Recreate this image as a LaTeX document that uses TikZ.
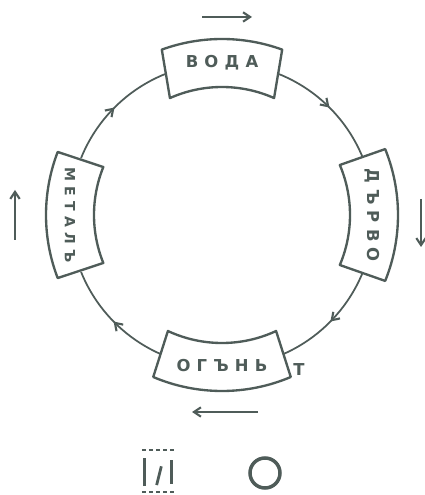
\documentclass[tikz,border=0pt]{standalone}
\usepackage{fontspec}
\setmainfont{DejaVu Sans}
\usepackage{tikz}
\usetikzlibrary{arrows.meta, calc, decorations.markings}
\definecolor{ink}{HTML}{4F5C59}
\newfontfamily\lettering[LetterSpace=38]{DejaVu Sans}
\begin{document}
\begin{tikzpicture}[
      x=0.03cm, y=0.03cm,
      every node/.style={text=ink, font=\lettering\fontsize{14}{16}\selectfont\bfseries},
      band/.style={draw=ink, line width=2pt, fill=white, line join=round},
      ring/.style={draw=ink, line width=1.5pt},
      flow/.style={ring, postaction={decorate},
                   decoration={markings, mark=at position 0.5 with {\arrow{Straight Barb[length=6pt, width=8pt, line width=1.8pt]}}}},
      turn/.style={draw=ink, line width=2pt, -{Straight Barb[length=6pt, width=8pt, line width=1.8pt]}},
    ]
    \useasboundingbox (0,0) rectangle (425,495);
    \coordinate (O) at (222,280);

    % #1 middle angle, #2 half angle outside, #3 half angle inside
    \newcommand\band[3]{\draw[band] ($(O)+(#1-#3:128)$) arc[start angle=#1-#3, end angle=#1+#3, radius=128]
      -- ($(O)+(#1+#2:176)$) arc[start angle=#1+#2, end angle=#1-#2, radius=176] -- cycle;}

    \coordinate (voda-w)  at ($(O)+(112:152)$);
    \coordinate (voda-e)  at ($(O)+(68:152)$);
    \coordinate (darvo-n) at ($(O)+(22:152)$);
    \coordinate (darvo-s) at ($(O)+(-22:152)$);
    \coordinate (ogan-e)  at ($(O)+(-67:152)$);
    \coordinate (ogan-w)  at ($(O)+(-113:152)$);
    \coordinate (metal-s) at ($(O)+(-158:152)$);
    \coordinate (metal-n) at ($(O)+(158:152)$);

    \draw[flow] (voda-e)  arc[start angle=68,   end angle=22,   radius=152];
    \draw[flow] (darvo-s) arc[start angle=-22,  end angle=-67,  radius=152];
    \draw[flow] (ogan-w)  arc[start angle=-113, end angle=-158, radius=152];
    \draw[flow] (metal-n) arc[start angle=158,  end angle=112,  radius=152];

    \band{90}{20}{24}
    \band{0}{22}{23}
    \band{270}{23}{25}
    \band{180}{21}{22}

    \node (voda)  at ($(O)+(90:152)$)  {ВОДА};
    \node[rotate=-90] (darvo) at ($(O)+(0:150)$)   {ДЪРВО};
    \node (ogan)  at ($(O)+(270:151)$) {ОГЪНЬ};
    \node[rotate=-90, font=\lettering\fontsize{12}{14}\selectfont\bfseries] (metal) at ($(O)+(180:152)$) {МЕТАЛЪ};
    \node (t) at (299,125) {Т};

    \coordinate (top-a) at (202,478);  \coordinate (top-b) at (252,478);
    \coordinate (rgt-a) at (421,296);  \coordinate (rgt-b) at (421,248);
    \coordinate (bot-a) at (258,83);   \coordinate (bot-b) at (192,83);
    \coordinate (lft-a) at (15,255);   \coordinate (lft-b) at (15,305);
    \draw[turn] (top-a) -- (top-b);
    \draw[turn] (rgt-a) -- (rgt-b);
    \draw[turn] (bot-a) -- (bot-b);
    \draw[turn] (lft-a) -- (lft-b);

    \node[minimum width=1.0cm, minimum height=1.25cm, inner sep=0pt] (sym) at (159,24) {};
    \draw[ink, line width=2.4pt] ([xshift=2pt,yshift=5pt]sym.south west) -- ([xshift=2pt,yshift=-7pt]sym.north west);
    \draw[ink, line width=2.4pt] ([xshift=-4pt,yshift=7pt]sym.south east) -- ([xshift=-4pt,yshift=-9pt]sym.north east);
    \draw[ink, line width=1.4pt, dash pattern=on 3pt off 3pt] (sym.north west) -- (sym.north east);
    \draw[ink, line width=1.4pt, dash pattern=on 3pt off 3pt] (sym.south west) -- (sym.south east);
    \draw[ink, line width=2.4pt] ([xshift=2pt,yshift=4pt]sym.center) -- ([xshift=-2pt,yshift=-12pt]sym.center);
    \node[draw=ink, circle, line width=3pt, minimum size=0.9cm, inner sep=0pt] (ring0) at (265,22) {};
\end{tikzpicture}
\end{document}
